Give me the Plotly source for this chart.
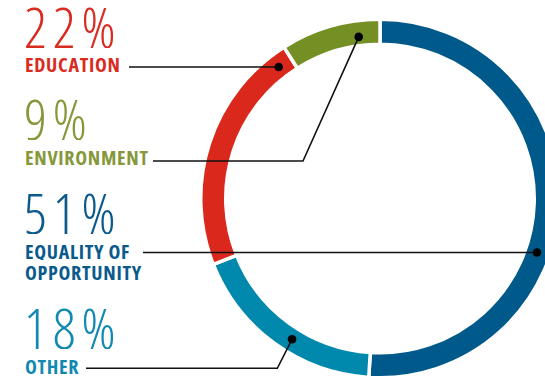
import math
import plotly.graph_objects as go

# Share of spending by area (percent), clockwise from 12 o'clock
areas = ["EQUALITY OF OPPORTUNITY", "OTHER", "EDUCATION", "ENVIRONMENT"]
shares = [51, 18, 22, 9]
ring_colors = ["#00598B", "#0088AD", "#DA291C", "#748F23"]
text_colors = ["#0A5A8C", "#1189B0", "#D92B1F", "#86983A"]
pct_labels = ["51%", "18%", "22%", "9%"]
name_lines = [["EQUALITY OF", "OPPORTUNITY"], ["OTHER"], ["EDUCATION"], ["ENVIRONMENT"]]

# Canvas geometry (pixels); the ring runs past the right edge of the view
W, H = 600, 378
CX, CY = 380.0, 198.5
R_OUT = 179.25
HOLE = 0.8605
R_MID = 166.0

# Text placement: vertical centre of the big number and of each name line
pct_y = [212, 327, 26, 117.5]
name_y = [[251.5, 272.5], [366], [64], [157]]
TEXT_X = 25

# Leader lines: dot angle (deg clockwise from top), start x, optional elbow
dot_angle = [109, 212, 322.4, 352.5]
lead_start = [143, 86, 129, 153]
lead_y = [None, 368.3, None, 161]
elbow_x = [None, 277.3, None, 303]
dot_r = [R_MID, R_MID, R_MID, 163.0]

PCT_STYLE = "font-stretch:75%;letter-spacing:6px"
NAME_STYLE = "font-stretch:75%;letter-spacing:0.7px"

fig = go.Figure()

fig.add_trace(go.Pie(
    labels=areas, values=shares, sort=False, direction="clockwise", rotation=0,
    hole=HOLE, textinfo="none", hoverinfo="skip", showlegend=False,
    marker=dict(colors=ring_colors, line=dict(color="white", width=3.5)),
    domain=dict(x=[(CX - R_OUT) / W, (CX + R_OUT) / W],
                y=[(H - CY - R_OUT) / H, (H - CY + R_OUT) / H]),
))

# invisible axes in pixel units for the leaders
fig.add_trace(go.Scatter(x=[0, W], y=[0, H], mode="markers",
                         marker=dict(opacity=0), hoverinfo="skip", showlegend=False))

shapes = []
annotations = []
for i in range(len(areas)):
    th = math.radians(dot_angle[i])
    dx = CX + dot_r[i] * math.sin(th)
    dy = CY - dot_r[i] * math.cos(th)
    if elbow_x[i] is None:
        pts = [(lead_start[i], dy), (dx, dy)]
    else:
        pts = [(lead_start[i], lead_y[i]), (elbow_x[i], lead_y[i]), (dx, dy)]
    path = "M " + " L ".join(f"{x:.2f},{y:.2f}" for x, y in pts)
    shapes.append(dict(type="path", path=path, xref="x", yref="y", layer="above",
                       line=dict(color="#111111", width=1.6)))
    rd = 4.3
    shapes.append(dict(type="circle", xref="x", yref="y", layer="above",
                       x0=dx - rd, x1=dx + rd, y0=dy - rd, y1=dy + rd,
                       fillcolor="#000000", line=dict(width=0)))

    annotations.append(dict(
        x=TEXT_X - 3, y=pct_y[i], xref="x", yref="y", xanchor="left", yanchor="middle",
        showarrow=False, height=44, valign="middle",
        text=f'<span style="{PCT_STYLE}">{pct_labels[i]}</span>',
        font=dict(family="Open Sans", size=56, weight=300, color=text_colors[i])))
    for line, ly in zip(name_lines[i], name_y[i]):
        annotations.append(dict(
            x=TEXT_X - 2, y=ly, xref="x", yref="y", xanchor="left", yanchor="middle",
            showarrow=False, height=17, valign="middle",
            text=f'<span style="{NAME_STYLE}">{line}</span>',
            font=dict(family="Open Sans", size=20, weight=700, color=text_colors[i])))

fig.update_layout(
    width=W, height=H, margin=dict(l=0, r=0, t=0, b=0, pad=0),
    paper_bgcolor="white", plot_bgcolor="rgba(0,0,0,0)",
    xaxis=dict(range=[0, W], visible=False, fixedrange=True),
    yaxis=dict(range=[H, 0], visible=False, fixedrange=True),
    shapes=shapes, annotations=annotations,
)

fig.write_html(
    "out.html",
    post_script="document.documentElement.style.overflow='hidden';"
                "document.body.style.overflow='hidden';",
)
